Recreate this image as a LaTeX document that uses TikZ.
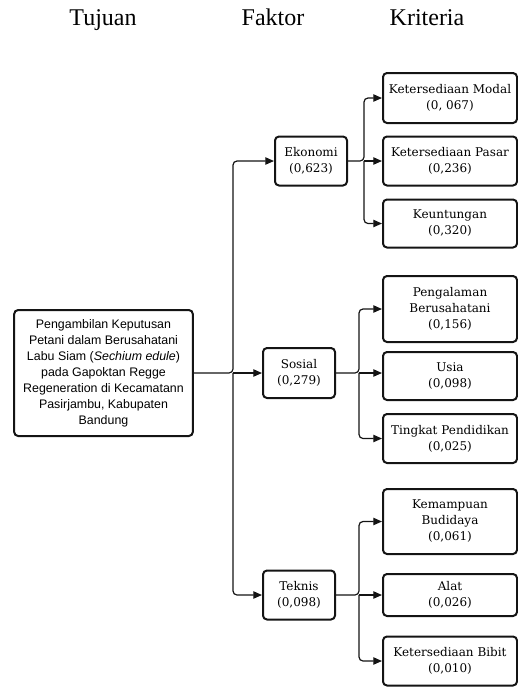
\documentclass[tikz,border=0pt]{standalone}
\usepackage{fontspec}
\setmainfont{Liberation Serif}
\newfontfamily\fonteTujuan{Liberation Sans}
\newfontfamily\fonteKotak{DejaVu Serif}
\usetikzlibrary{arrows.meta}
\definecolor{corLinha}{RGB}{20, 20, 20}

\tikzset{
  kotak/.style={draw=corLinha, line width=1.5pt, rounded corners=3pt,
        align=center, inner sep=1pt, font=\fonteKotak\fontsize{9}{12}\selectfont},
  kotakFaktor/.style={kotak, minimum width=54pt},
  kotakKriteria/.style={kotak, minimum width=100.5pt},
  judul/.style={font=\fontsize{18}{20}\selectfont, anchor=base},
  panah/.style={draw=corLinha, line width=0.9pt, rounded corners=3pt,
        -{Triangle[length=6.5pt, width=5.5pt]}}
}

\begin{document}
\begin{tikzpicture}[x=0.75pt, y=-0.75pt]
  \useasboundingbox (0,0) rectangle (518,687);

  %% ================================================================
  %%  JUDUL KOLOM
  %% ================================================================
  \node[judul] (tTujuan)   at (103, 25) {Tujuan};
  \node[judul] (tFaktor)   at (273, 25) {Faktor};
  \node[judul] (tKriteria) at (427, 25) {Kriteria};

  %% ================================================================
  %%  TUJUAN
  %% ================================================================
  \node[kotak, minimum width=134pt, minimum height=94.5pt,
        font=\fonteTujuan\fontsize{9.3}{12}\selectfont]
        (tujuan) at (103.5, 373)
        {Pengambilan Keputusan\\ Petani dalam Berusahatani\\
         Labu Siam (\textit{Sechium edule})\\ pada Gapoktan Regge\\
         Regeneration di Kecamatann\\ Pasirjambu, Kabupaten\\ Bandung};

  %% ================================================================
  %%  FAKTOR
  %% ================================================================
  \node[kotakFaktor, minimum height=36.75pt] (ekonomi) at (311, 161) {Ekonomi\\(0,623)};
  \node[kotakFaktor, minimum height=37.5pt]  (sosial)  at (299, 373) {Sosial\\(0,279)};
  \node[kotakFaktor, minimum height=36.75pt] (teknis)  at (299, 595) {Teknis\\(0,098)};

  %% ================================================================
  %%  KRITERIA
  %% ================================================================
  % Ekonomi
  \node[kotakKriteria, minimum height=37.5pt]  (modal)      at (450, 98)    {Ketersediaan Modal\\(0, 067)};
  \node[kotakKriteria, minimum height=36.75pt] (pasar)      at (450, 161)   {Ketersediaan Pasar\\(0,236)};
  \node[kotakKriteria, minimum height=36pt]    (untung)     at (450, 223.5) {Keuntungan\\(0,320)};
  % Sosial
  \node[kotakKriteria, minimum height=49.5pt]  (pengalaman) at (450, 309)   {Pengalaman\\Berusahatani\\(0,156)};
  \node[kotakKriteria, minimum height=36pt]    (usia)       at (450, 376)   {Usia\\(0,098)};
  \node[kotakKriteria, minimum height=36.75pt] (didik)      at (450, 438.5) {Tingkat Pendidikan\\(0,025)};
  % Teknis
  \node[kotakKriteria, minimum height=48.75pt] (budidaya)   at (450, 521.5) {Kemampuan\\Budidaya\\(0,061)};
  \node[kotakKriteria, minimum height=31.5pt]  (alat)       at (450, 595)   {Alat\\(0,026)};
  \node[kotakKriteria, minimum height=36.75pt] (bibit)      at (450, 661)   {Ketersediaan Bibit\\(0,010)};

  %% ================================================================
  %%  PANAH
  %% ================================================================
  \coordinate (jTujuan)  at (233, 373);
  \coordinate (jEkonomi) at (364, 161);
  \coordinate (jSosial)  at (359, 373);
  \coordinate (jTeknis)  at (359, 595);

  % Tujuan -> Faktor
  \draw[panah] (tujuan.east) -- (jTujuan) |- (ekonomi.west);
  \draw[panah] (jTujuan) -- (sosial.west);
  \draw[panah] (jTujuan) |- (teknis.west);

  % Ekonomi -> Kriteria
  \draw[panah] (ekonomi.east) -- (jEkonomi) |- (modal.west);
  \draw[panah] (jEkonomi) -- (pasar.west);
  \draw[panah] (jEkonomi) |- (untung.west);

  % Sosial -> Kriteria
  \draw[panah] (sosial.east) -- (jSosial) |- (pengalaman.west);
  \draw[panah] (jSosial) -- (jSosial -| usia.west);
  \draw[panah] (jSosial) |- (didik.west);

  % Teknis -> Kriteria
  \draw[panah] (teknis.east) -- (jTeknis) |- (budidaya.west);
  \draw[panah] (jTeknis) -- (alat.west);
  \draw[panah] (jTeknis) |- (bibit.west);

\end{tikzpicture}
\end{document}
